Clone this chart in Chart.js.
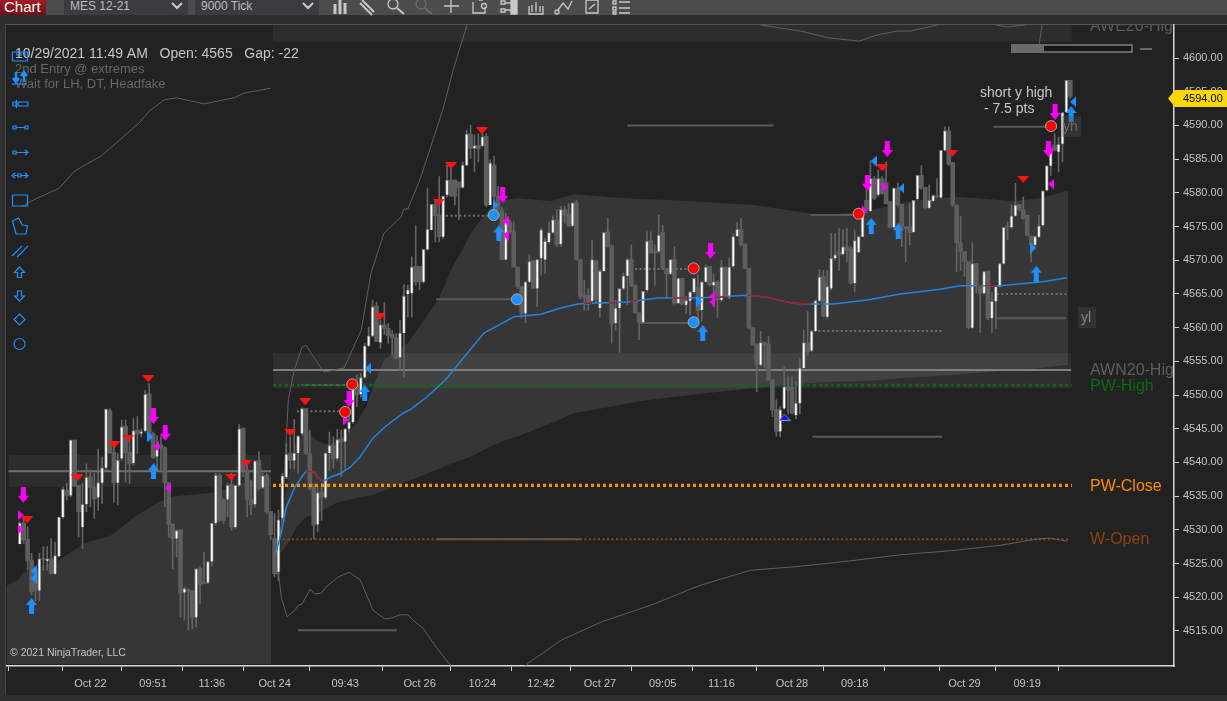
<!DOCTYPE html>
<html>
<head>
<meta charset="utf-8">
<title>MES 12-21</title>
<script src="https://cdn.jsdelivr.net/npm/chart.js@4/dist/chart.umd.min.js"></script>
<style>
html, body { margin: 0; padding: 0; width: 1227px; height: 701px; overflow: hidden; background: #303030; font-family: "Liberation Sans", Arial, sans-serif; }
.abs { position: absolute; }
#toolbar { left: 0; top: 0; width: 1227px; height: 15px; background: #4c4c4c; }
#strip { left: 0; top: 15px; width: 1227px; height: 9px; background: #2e2e2e; }
#panel { left: 5px; top: 24px; right: 0; height: 671px; background: #222; border-top: 1px solid #555; border-left: 1px solid #444; box-sizing: border-box; }
#tab { left: 0; top: 0; width: 46px; height: 15px; background: linear-gradient(#a51c24, #6d1015); color: #fff; font-size: 15px; line-height: 13px; text-indent: 4px; overflow: hidden; }
.combo { top: 0; height: 15px; background: #3b3b40; color: #bdbdbd; font-size: 12px; line-height: 12px; text-indent: 6px; overflow: hidden; }
#bar { left: 1011px; top: 44px; width: 122px; height: 9px; border: 2px solid #666; box-sizing: border-box; background: #151515; }
#barFill { left: 1011px; top: 44px; width: 33px; height: 9px; background: #6a6a6a; }
#barDash { left: 1140px; top: 48px; width: 12px; height: 2px; background: #666; }
canvas { position: absolute; left: 0; top: 0; }
svg { position: absolute; left: 0; top: 0; pointer-events: none; }
</style>
</head>
<body>
<div id="toolbar" class="abs"></div>
<div id="strip" class="abs"></div>
<div id="panel" class="abs"></div>
<div id="tab" class="abs">Chart</div>
<div class="abs combo" style="left:64px;width:124px">MES 12-21</div>
<div class="abs combo" style="left:195px;width:124px">9000 Tick</div>
<svg width="1227" height="24" fill="none" stroke="#c8c8c8" stroke-width="1.3">
  <path d="M172 3l5 5 5-5M303 3l5 5 5-5" stroke-width="2"/>
  <path d="M335 4v10M340 0v14M345 3v11" stroke-width="3"/>
  <path d="M362 0l12 12M360 3l12 12" stroke-width="2"/>
  <circle cx="393" cy="4" r="5"/><path d="M397 8l7 6" stroke-width="2"/>
  <circle cx="421" cy="4" r="5" stroke="#6a6a6a"/><path d="M425 8l7 6" stroke="#6a6a6a" stroke-width="2"/>
  <path d="M444 6h15M451 0v13"/>
  <path d="M473 2v11h12v-6M479 0h4"/><circle cx="484" cy="6" r="2.5"/>
  <path d="M501 1h4v3h-4zM501 9h4v3h-4zM505 3h6M505 10h6"/><path d="M511 0h6v14h-6z" fill="#c8c8c8"/>
  <path d="M529 6v8h14V6M532 12V5M536 12V2M540 12V6"/>
  <circle cx="557" cy="12" r="2"/><path d="M558 10l5-7 5 6 4-8"/>
  <path d="M586 0h12v13h-12zM589 9l6-5"/>
  <path d="M613 1h3v3h-3zM613 7h3v3h-3zM613 12h3v2h-3zM619 2h11M619 8h11M619 13h11"/>
</svg>
<div id="bar" class="abs"></div>
<div id="barFill" class="abs"></div>
<div id="barDash" class="abs"></div>
<canvas id="chart" width="1227" height="701"></canvas>
<svg width="60" height="360" fill="none" stroke="#1e90ff" stroke-width="1.2" style="z-index:3">
  <path d="M12.500 52h15v9h-15zM17 52v4M21 52v4M25 52v4"/>
  <path d="M12 84h15"/>
  <path d="M16 72v9M13 78l3 4 3-4M24 82v-9M21 76l3-4 3 4" stroke-width="2.5"/>
  <path d="M13 102h3v4h-3zM18 102h10v4H18zM16.500 100v8"/>
  <path d="M13 126h3v3h-3zM16 127.500h9M25 126h3v3h-3z"/>
  <path d="M13 151h3v3h-3zM16 152.500h11M25 150l3 2.500-3 2.500"/>
  <path d="M14 175.500h4M21 175.500h6M15 173l-3 2.500 3 2.500M25 173l3 2.500-3 2.500M18 174h3v3h-3z"/>
  <path d="M12.500 195h15v11h-15z"/>
  <path d="M12.500 221l6-3 4 7 5 1-1.500 8h-10z"/>
  <path d="M12 256l10-10M17 257l11-11"/>
  <path d="M19.500 267l5 5.500h-3v5h-4v-5h-3z"/>
  <path d="M17.500 291h4v5h3l-5 5-5-5h3z"/>
  <path d="M19.500 314l5.500 5.500-5.500 5.500-5.500-5.500z"/>
  <circle cx="19.500" cy="344" r="5.500"/>
</svg>
<script>
// bars
const opens = [
  4527.9,4531,4528.6,4525.5,4524,4521,4525.7,4525.4,4525.7,4523.5,
  4526.1,4531.9,4535.9,4535.1,4543.3,4536.6,4530.4,4533.8,4537.9,4536.4,
  4534.8,4537,4539.2,4547.7,4541.5,4537,4540.6,4545.4,4541.5,4539.9,
  4544.8,4544.3,4544.7,4550.2,4544.3,4540.9,4542.6,4542.2,4537,4530.8,
  4528.7,4530,4520.7,4521,4521,4517,4524.3,4522.2,4522.2,4525.3,
  4531,4538.1,4534.5,4534.5,4536.7,4530.4,4536.6,4545.1,4538.9,4534.5,
  4533.8,4540.3,4536.3,4538.1,4532.7,4528.7,4523.8,4531.8,4537.8,4541.3,
  4540.3,4541.4,4544.3,4548,4541.3,4536.8,4530.8,4535.6,4534.8,4541.4,
  4542.5,4540.6,4543.5,4543.1,4545,4546,4551.5,4550.1,4552.6,4557.3,
  4558.8,4563.2,4557.8,4560.4,4559.9,4559,4558.5,4555.6,4559.2,4565,
  4565.1,4569.1,4569.1,4566.8,4571.6,4574.5,4578.3,4576.7,4573.5,4579.7,
  4581.9,4581.9,4581.6,4580.8,4584.1,4588.7,4586.6,4587,4587,4588.4,
  4578.2,4584.1,4579.5,4577.4,4570.1,4575.7,4574.2,4569,4566.1,4562.1,
  4566.8,4569.9,4565.8,4570.3,4570.1,4572.7,4574.1,4576,4572.4,4577.5,
  4576.9,4575.1,4578.5,4570.1,4564.8,4564.8,4564,4569.9,4562.9,4568.4,
  4574.2,4572.1,4560.7,4562.9,4565.8,4567.7,4570.1,4566.3,4562.2,4560.8,
  4565.6,4572.9,4571.4,4571.3,4574.1,4568.8,4568,4570.1,4563.6,4567.3,
  4563.4,4564,4565.3,4566,4562.6,4566.8,4569.1,4566.3,4566.8,4564.1,
  4569,4564.5,4569.1,4573.6,4574.6,4572.4,4568.8,4560,4557.6,4554.5,
  4557.8,4557.6,4552.3,4547.9,4544.6,4548,4551.2,4551.2,4547,4548.8,
  4554,4557.8,4556.6,4559.5,4564,4567.6,4561.6,4565.8,4570.3,4571.3,
  4570.9,4572,4571.7,4566.6,4571.2,4573.5,4578.9,4577.3,4582.1,4579.7,
  4582.1,4581.5,4578.7,4574.9,4580.7,4578.3,4575,4575,4574.2,4579.1,
  4582.6,4580.8,4577.8,4578.8,4579.6,4579.3,4586.3,4589.2,4584.5,4578.2,
  4572.6,4571.3,4569.8,4560,4569.5,4566.3,4565.1,4568.4,4561.4,4563.9,
  4566.1,4569.5,4575,4574.9,4576.6,4578.3,4577.5,4576.7,4573.6,4572.3,
  4573.5,4575.2,4580.4,4584,4587.1,4586.1,4587.3,4592,4596.7
];
const closes = [
  4531,4528.5,4525.4,4520.8,4521,4525.7,4525.6,4525.7,4523.5,4526.2,
  4531.9,4536,4535.1,4543.3,4536.5,4532.7,4533.8,4537.8,4536.3,4534.6,
  4537,4539.2,4547.9,4541.4,4537,4540.3,4545.3,4541.4,4539.8,4544.7,
  4544.2,4544.5,4550.1,4544.3,4540.7,4541.9,4542.1,4537,4530.8,4528.7,
  4529.9,4520.6,4521.3,4520.9,4517,4524.2,4521.9,4522,4525.3,4531,
  4538.1,4531.4,4531.4,4536.6,4530.4,4536.6,4545,4538.9,4534.5,4533.7,
  4540.2,4536.1,4538,4532.7,4529.3,4523.5,4531.5,4538,4541.2,4540.3,
  4541.4,4543.9,4548,4541.3,4536.1,4530.7,4535.5,4534.8,4541.4,4542.5,
  4540.6,4543.4,4543,4545,4546,4550.8,4550,4552.6,4557.3,4558.8,
  4563.1,4557.9,4560.4,4559.9,4558.8,4558.5,4555.4,4559.2,4564.7,4565.6,
  4569,4566.8,4566.8,4571.6,4574.6,4578.3,4576.6,4573.5,4579.5,4581.9,
  4579.5,4579.5,4580.8,4584.1,4588.7,4586.6,4587,4586.5,4588.3,4578.2,
  4584.4,4579.5,4577.5,4570.1,4575.7,4574.2,4569,4566.1,4562.1,4566.8,
  4569.8,4565.8,4570.1,4574.5,4572.8,4574.1,4576,4572.3,4577.5,4576.7,
  4575.1,4578.5,4570.1,4564.6,4564.5,4563.4,4570.1,4564.1,4568.4,4574.1,
  4572,4560.6,4562.9,4565.8,4567.7,4570.1,4566.2,4562.2,4560.7,4565.4,
  4572.8,4571.1,4571.1,4573.7,4568.8,4568,4570.1,4563.6,4567.3,4563.5,
  4564,4565.3,4567.3,4562.5,4566.8,4569,4566.3,4566.8,4564.1,4569,
  4564.6,4569,4573.5,4574.6,4572.3,4568.8,4560,4557.4,4554.5,4557.8,
  4557.4,4552.2,4547.8,4544.6,4547.8,4551.2,4550.7,4547.3,4548.8,4554,
  4557.8,4556.4,4559.5,4564,4567.5,4561.7,4566.1,4570.3,4570.8,4570.8,
  4572,4571.5,4566.6,4572.9,4573.5,4577.5,4577.5,4582.1,4579.2,4582.1,
  4579.9,4578.4,4574.9,4580.7,4578.2,4575,4574.7,4574.1,4578.9,4582.6,
  4580.7,4577.8,4578.9,4579.6,4579.4,4586.3,4589.2,4584.3,4578.2,4572.6,
  4571.3,4569.8,4560,4569.5,4566.3,4565.1,4568.3,4561.4,4563.9,4566.1,
  4569.5,4574.9,4574.9,4576.6,4578.2,4577.5,4576.2,4573.7,4572.3,4573.5,
  4575.1,4580.3,4584,4586.3,4586.3,4587.2,4591.9,4596.7,4594.3
];
const highs = [
  4531.2,4531.9,4530.4,4526.5,4524.5,4526.5,4527.5,4527.5,4528.7,4528.2,
  4531.9,4536.4,4536.9,4543.3,4543.3,4536.6,4536.9,4539.8,4538.9,4538.4,
  4542,4540.8,4547.9,4548,4542.3,4541.3,4546.3,4546.3,4544,4546.5,
  4546.8,4545,4550.7,4551.7,4544.5,4544,4543.8,4542.3,4537,4530.9,
  4530,4530,4521.5,4521.3,4521,4524.2,4524.5,4526.7,4525.3,4531,
  4538.4,4538.4,4534.6,4536.9,4538.4,4536.6,4545.6,4545.1,4540.3,4537.4,
  4540.3,4541.6,4538.4,4538.4,4532.7,4532.4,4532.9,4538.4,4542.8,4543.8,
  4546.4,4544,4548.1,4548,4544.8,4536.8,4536.4,4536.9,4541.4,4544.5,
  4543.8,4544.9,4544.8,4545,4548,4551.5,4553,4553.2,4557.7,4560.1,
  4564.1,4563.8,4561.1,4563.7,4560.6,4559.6,4559.1,4561.1,4566.4,4566.3,
  4570.5,4575.1,4569.1,4571.6,4580.7,4578.3,4579,4582.4,4579.5,4584.1,
  4584.4,4581.9,4581.6,4584.6,4589.3,4590,4588.6,4588.7,4589.3,4588.8,
  4584.9,4585.4,4581,4577.9,4577,4576,4575.7,4569,4566.1,4566.8,
  4570.8,4570,4570.1,4574.7,4573.3,4575.7,4576.6,4577.5,4578,4578,
  4578.4,4578.5,4578.9,4570.1,4567,4565.8,4573,4570,4568.6,4574.1,
  4576.2,4572.3,4564.1,4565.8,4568.1,4570.3,4572.3,4566.3,4562.2,4565.4,
  4574.2,4574.2,4572.3,4576.7,4575.2,4568.8,4570.1,4572,4567.3,4567.3,
  4564.6,4565.3,4567.3,4567.8,4566.8,4569.3,4569.1,4568,4567,4570,
  4569,4570.3,4573.9,4575.6,4576.2,4572.4,4568.8,4560,4557.6,4559.4,
  4557.9,4558.7,4552.3,4549.3,4548.3,4554.2,4552.7,4552.7,4552,4555.4,
  4559.6,4562.4,4559.6,4564.1,4568.6,4568.5,4568.5,4574,4574,4574.7,
  4574.5,4574.7,4572,4574.5,4573.6,4577.5,4580.4,4584.8,4582.4,4583.4,
  4582.4,4584.6,4578.7,4580.7,4581.4,4578.3,4575,4578.4,4578.9,4582.6,
  4584,4580.8,4581.2,4579.7,4582.1,4586.3,4589.8,4589.8,4584.5,4578.2,
  4576.5,4571.3,4569.8,4572.6,4569.5,4566.3,4568.3,4568.4,4565.2,4566.2,
  4569.5,4574.9,4575.7,4578.2,4581.4,4578.3,4579.4,4576.7,4573.6,4573.6,
  4576.7,4580.3,4584,4586.3,4588.8,4588.3,4591.9,4596.7,4596.7
];
const lows = [
  4527.9,4528,4524,4520.4,4519.5,4519.5,4524,4524,4523.4,4523.4,
  4526,4531.7,4534.4,4534.9,4536.4,4528.9,4527.2,4532.7,4533.4,4531.7,
  4532.9,4533.9,4538.9,4541.3,4534.1,4533.7,4540.3,4537.1,4536.9,4539.6,
  4541.3,4543.8,4544.5,4543.6,4540.6,4538.9,4538.9,4533.4,4528.9,4524.2,
  4526,4517.1,4516.6,4515.1,4515.3,4515.6,4519,4522,4522,4524.7,
  4530.7,4531.2,4530.9,4531.9,4529.9,4530.2,4536.4,4537.9,4531.9,4532.2,
  4533.4,4535.9,4536.1,4532.4,4528.5,4523,4522.5,4531.4,4537.6,4539.1,
  4539.1,4538.4,4544,4541.2,4535.9,4528.7,4529.7,4531.4,4534.6,4538.8,
  4539.1,4540.3,4537.9,4539.1,4544.5,4545.8,4548.3,4549.7,4552.5,4557.2,
  4558.6,4557.9,4556.9,4559,4557.7,4555.9,4555.4,4553.7,4552.6,4561.6,
  4561.6,4566.3,4565.6,4566.6,4571.5,4574.5,4572.7,4572.7,4573.2,4579.4,
  4579.5,4578.2,4576,4580.7,4584,4585.1,4583.1,4584.6,4586.9,4577.9,
  4578.2,4577.4,4577.4,4570.1,4570,4574,4569,4565.8,4561.4,4560.7,
  4566.7,4565.8,4563.1,4567.8,4568,4572.5,4574,4572,4572,4575.5,
  4575,4575,4570,4564.3,4562.6,4562.6,4563.6,4563.6,4561.6,4568.3,
  4571.9,4557.7,4559.6,4556.3,4565.6,4563.4,4566.1,4562.1,4558.2,4560.7,
  4565.3,4571,4566.3,4571.1,4568.7,4564.3,4567.9,4563.5,4563.6,4563.4,
  4562.1,4561.9,4565.1,4560.9,4561,4566.7,4566.1,4563.1,4561.5,4563.9,
  4564.5,4564.3,4569,4573.5,4572.1,4568.7,4559.9,4557.4,4550.5,4554.4,
  4554,4552.2,4546.8,4543.9,4543.8,4547.9,4547.2,4547.2,4546.5,4547.2,
  4554,4555.9,4556.4,4559.4,4563.9,4561.6,4561.4,4565.6,4570,4568.5,
  4570.8,4569.8,4566.5,4565.3,4571.1,4573.5,4577,4577.2,4579,4579.5,
  4579.8,4578.3,4574.8,4574.7,4578,4572,4569.8,4572.3,4574.1,4578.9,
  4580.5,4577.7,4577.7,4578.7,4579.3,4579.2,4586.2,4584.1,4578,4568.3,
  4568.5,4567.6,4559.9,4559.9,4565.1,4559.3,4565,4561.2,4559.3,4559.9,
  4566,4569.4,4573,4574.7,4576.5,4577.3,4576.1,4573.6,4569.8,4572,
  4573.4,4575.1,4580.3,4582.6,4586.2,4583.1,4584.6,4591.9,4594
];

// axis
const priceTicks = [4515,4520,4525,4530,4535,4540,4545,4550,4555,4560,4565,4570,4575,4580,4585,4590,4595,4600];
const timeTickBars = [4,18,34,49,65,83,102,118,133,148,164,179,197,213,228,241,257];
const timeTickLabels = ['','Oct 22','09:51','11:36','Oct 24','09:43','Oct 26','10:24','12:42','Oct 27','09:05','11:16','Oct 28','09:18','','Oct 29','09:19'];

// shaded bands
const leftBandX = [-3.4,-0.3,0.9,5.5,9.9,16.5,23.4,29.2,35.3,39.4,49.6,56.5,64.1];
const leftBandTop = [4521.7,4522.6,4523.7,4524.5,4525.5,4528,4529.2,4531.9,4534.1,4535,4535.5,4536.9,4537.8];
const bandX = [66.4,67.2,68.5,70.5,73,75.6,77.9,80.7,83.2,85.8,88.3,90.1,92.9,99,106.7,110,115.1,120.2,123.5,127,135.5,141.3,150,158.4,166.8,175.5,187.2,204.3,216.2,224.6,233,239.9,253.4,260.3,267.4];
const bandUpper = [4526.6,4532.5,4537.8,4542.9,4544.8,4543.3,4542.7,4543,4544.1,4545.8,4548.2,4551.2,4555.2,4557.7,4564.1,4568.5,4574,4577.9,4578.9,4579.2,4578.8,4579.8,4579.4,4579.1,4578.9,4578.6,4578.2,4576.7,4577.2,4578.5,4579.2,4579.4,4578.8,4579.2,4580.3];
const bandLower = [4526.6,4527,4528,4530.3,4531.9,4532.3,4533.1,4534,4534.4,4534.7,4535,4535.2,4535.8,4537.2,4539,4539.8,4540.9,4542.4,4543.2,4543.9,4545.8,4547.3,4548.2,4549.1,4549.7,4550.3,4551,4551.9,4552.1,4552.5,4552.8,4553.1,4553.7,4554,4554.5];

// indicator curves as [bar, price]
const envLeft = [[0.4,4577.9],[3,4578.8],[10.1,4580.7],[13.9,4583.2],[20.8,4585.5],[24.6,4587.4],[30.5,4590.4],[33,4592.1],[36.9,4593.8],[39.9,4594.1],[47.1,4593.2],[49.6,4593.5],[54.7,4594.1],[57.2,4594.8],[63.9,4595.5]];
const envUpper = [[65.7,4526.3],[66.7,4530.7],[67.4,4536.9],[68.5,4549.3],[70,4553.7],[72,4557.1],[73,4557.4],[74.3,4556.2],[77.6,4553.4],[82.7,4554],[87.1,4559.6],[89.6,4568.1],[92.9,4574],[97.2,4576.4],[98,4577.6],[99,4577.6],[102.3,4582.3],[107.9,4592.3],[110.7,4598.5],[114.1,4604.9],[127.8,4615],[158.4,4625],[188.9,4604.9],[199.2,4604],[206.3,4603],[214.2,4602.5],[218.5,4603.4],[223.9,4604],[227.2,4604],[234,4604.9],[241.2,4607],[249.1,4604.9],[251.9,4604.6],[256.5,4604.9]];
const envStub = [[260,4601.8],[260.8,4604.9]];
const envLower = [[65.1,4525.5],[66.2,4522.6],[66.7,4520],[68.2,4517.1],[70.2,4518.1],[71,4518.8],[72,4519],[74.1,4521.2],[75.1,4520.5],[76.9,4520.6],[78.1,4521.5],[81.2,4523],[84,4523.7],[86.8,4522.6],[90.1,4518.1],[91.4,4517.5],[93.2,4516.8],[94.7,4516.9],[97,4517.4],[99,4517.4],[101.1,4516.2],[102.9,4515.4],[106.2,4512.6],[109.5,4510.2],[120.2,4503],[129.6,4510.2],[133.4,4511.7],[138,4513.6],[148.2,4516.3],[160.9,4518.8],[173.7,4521.8],[186.4,4524],[199.2,4524.6],[211.9,4525.4],[224.6,4526.3],[237.4,4526.9],[250.1,4527.7],[259,4528.6],[262.9,4528.8],[267.2,4528.3]];
const vwapLine = [[65.3,4526.6],[66.7,4529.5],[67.9,4533.2],[70.2,4536.4],[73,4538.7],[75.1,4538.6],[76.1,4537.7],[77.4,4537.2],[79.2,4537.8],[81.9,4538.4],[84.3,4539.3],[86.8,4540.8],[90.1,4543.6],[93.2,4545.3],[97.8,4547.3],[99.8,4547.9],[101.1,4548.5],[103.6,4549.6],[108.5,4552.2],[118.4,4559.2],[126.1,4561.6],[132.9,4562],[138,4562.9],[142.3,4563.5],[145.7,4563.6],[155.1,4563.8],[162.7,4564.4],[172.9,4564.4],[185.6,4564.8],[190.7,4564.5],[197.3,4563.6],[200.9,4563.5],[207.6,4563.5],[216.2,4564.1],[224.6,4565],[234.8,4565.7],[239.9,4566.2],[250.1,4566.2],[261,4566.8],[267.2,4567.4]];
const vwapRed = [
  [[73,4538.7],[75.1,4538.6],[76.1,4537.7],[77.4,4537.2]],
  [[144,4563.6],[146,4563.6]],
  [[150.3,4563.7],[152.5,4563.7]],
  [[155.8,4563.8],[157.6,4564.1]],
  [[166.6,4564.4],[170.7,4564.4]],
  [[177,4564.5],[180.5,4564.6]],
  [[185.6,4564.8],[190.7,4564.5],[197.3,4563.6],[201.7,4563.5]],
  [[204,4563.5],[205,4563.5]],
  [[244.2,4566.2],[245.4,4566.2]],
  [[246.3,4566.2],[249.3,4566.2]]
];

// levels as [first bar, last bar, price]
const pwHigh = [64.6,268.4,4551.5];
const pwClose = [64.6,268.4,4536.6];
const wOpen = [66,267.4,4528.6];
const awnLine = [64.6,268.2,4553.7];
const awnBand = [64.6,268.2,4551,4556.2];
const aweBand = [64.6,268.4,4602.4,4604.9];
const leftLine = [-2.9,64.1,4538.7];
const leftBand = [-2.9,64.1,4536.4,4541.1];
const solidLevels = [[155,192.3,4590],[106.2,126.5,4564.2],[158.4,171.9,4560.7],[202.2,235.3,4543.8],[71,96.2,4515.1],[248.4,263.1,4589.8],[249.3,266.9,4561.4],[201.7,214.7,4576.7],[71.8,84.8,4551.5],[106.2,143,4528.6]];
const dottedLevels = [[108.7,120.9,4576.6],[155.8,171.9,4568.7],[203.7,235.3,4559.5],[249.3,267.1,4565],[70.7,83,4547.6]];

// signals as [bar, price]
const redTriangles = [[1.9,4531.5],[14.7,4537.7],[24.1,4542.6],[27.7,4543.6],[32.8,4552.4],[53.9,4537.8],[57.8,4539.9],[69,4544.4],[72.8,4549],[91.9,4561.6],[106.9,4578.6],[110,4584],[117.9,4589.2],[220,4583.7],[237.9,4585.9],[256,4582]];
const magentaArrows = [[0.9,4535.2],[34.1,4546.9],[37.1,4544.4],[84,4549.4],[123.2,4579.7],[176.2,4571.4],[216.2,4581.5],[221.3,4586.5],[262.4,4586.5],[264.1,4592]];
const blueArrows = [[3,4518.7],[34.1,4538.7],[88,4550.3],[122.2,4574],[174.2,4559.2],[217.2,4575.1],[224.1,4574.3],[259.3,4568],[268.2,4591.7]];
const magentaRight = [[0.2,4532.2],[0.2,4530.1],[215.5,4577.4],[220.6,4580.9],[263.1,4586.4],[83.2,4546.3]];
const magentaLeft = [[34.8,4542.4],[37.9,4536.2],[124,4575.8],[124,4573.7],[176.7,4564.7],[176.7,4563.8],[263.1,4581.3]];
const blueLeft = [[3.5,4523.9],[3.5,4522.8],[88.8,4554],[217.8,4584.7],[224.9,4580.7],[268.7,4593.5]];
const blueRight = [[33.3,4543.8],[121.4,4578.2],[173.4,4563.9],[258.5,4571.8]];
const darkBlueUp = [[195.1,4546.7]];
const redDots = [[84.8,4551.6],[83,4547.5],[171.9,4568.8],[214,4576.9],[263.1,4589.9]];
const blueDots = [[120.9,4576.7],[126.8,4564.2],[171.9,4560.8]];

const lastPrice = 4594;

const pts = list => list.map(([x, y]) => ({x, y}));

function curve(list, color, width, extra) {
    return Object.assign({type: 'line', data: pts(list), borderColor: color, borderWidth: width, pointRadius: 0, tension: 0, fill: false, order: 60}, extra);
}

function level(item, color, width, dash, order) {
    return curve([[item[0], item[2]], [item[1], item[2]]], color, width, {borderDash: dash || [], order: order || 70});
}

function bandPair(top, bottom, color, order) {
    return [
        {type: 'line', data: top, borderWidth: 0, pointRadius: 0, tension: 0, fill: '+1', backgroundColor: color, order},
        {type: 'line', data: bottom, borderWidth: 0, pointRadius: 0, tension: 0, fill: false, order: order + 1}
    ];
}

function flatBand(item, color, order) {
    return bandPair([{x: item[0], y: item[3]}, {x: item[1], y: item[3]}], [{x: item[0], y: item[2]}, {x: item[1], y: item[2]}], color, order);
}

// little pictures for the signal marks
function sprite(w, h, draw) {
    const c = document.createElement('canvas');
    c.width = w; c.height = h;
    draw(c.getContext('2d'), w, h);
    return c;
}
function poly(ctx, points, fill, stroke) {
    ctx.beginPath();
    points.forEach(([x, y], i) => i ? ctx.lineTo(x, y) : ctx.moveTo(x, y));
    ctx.closePath();
    ctx.fillStyle = fill;
    ctx.fill();
    if (stroke) { ctx.strokeStyle = stroke; ctx.stroke(); }
}
const arrowDown = color => sprite(11, 16, (ctx) => poly(ctx, [[3,0],[8,0],[8,9],[11,9],[5.5,16],[0,9],[3,9]], color));
const arrowUp = color => sprite(11, 16, (ctx) => poly(ctx, [[5.5,0],[11,7],[8,7],[8,16],[3,16],[3,7],[0,7]], color));
const triDown = sprite(12, 7, (ctx) => poly(ctx, [[0,0],[12,0],[6,7]], '#ff1414'));
const triUp = sprite(12, 7, (ctx) => poly(ctx, [[6,0.5],[11.5,6.5],[0.5,6.5]], '#0a0aff', '#8a8ac8'));
const triLeft = color => sprite(6, 11, (ctx) => poly(ctx, [[6,0],[6,11],[0,5.5]], color));
const triRight = color => sprite(6, 11, (ctx) => poly(ctx, [[0,0],[6,5.5],[0,11]], color));

function marks(list, style) {
    return {type: 'line', data: pts(list), showLine: false, pointStyle: style, pointRadius: 5, borderWidth: 0, order: 2};
}
function dots(list, color) {
    return {type: 'line', data: pts(list), showLine: false, pointStyle: 'circle', pointRadius: 5.5, backgroundColor: color, pointBorderColor: '#a8a8a8', pointBorderWidth: 1, order: 1};
}

const barIdx = opens.map((_, i) => i);
const wickData = barIdx.map(i => ({x: i, y: [lows[i], highs[i]]}));
const upBars = barIdx.filter(i => closes[i] >= opens[i]).map(i => ({x: i, y: [opens[i], closes[i]]}));
const downBars = barIdx.filter(i => closes[i] < opens[i]).map(i => ({x: i, y: [closes[i], opens[i]]}));

const xOf = (a, b) => a.map((x, i) => ({x, y: b[i]}));

const datasets = [
    // left session shading, filled down to the floor of the chart
    {type: 'line', data: xOf(leftBandX, leftBandTop), borderWidth: 0, pointRadius: 0, tension: 0, fill: {value: 4510.1}, backgroundColor: 'rgba(255,255,255,0.095)', order: 100},
    ...bandPair(xOf(bandX, bandUpper), xOf(bandX, bandLower), 'rgba(255,255,255,0.095)', 96),
    ...flatBand(leftBand, 'rgba(255,255,255,0.05)', 92),
    ...flatBand(awnBand, 'rgba(255,255,255,0.06)', 90),
    ...flatBand(aweBand, 'rgba(255,255,255,0.05)', 88),

    curve(envLeft, '#606060', 1),
    curve(envUpper, '#606060', 1),
    curve(envStub, '#606060', 1),
    curve(envLower, '#606060', 1),

    level(awnLine, '#808080', 2),
    level(leftLine, '#707070', 2),
    ...solidLevels.map(l => level(l, '#5a5a5a', 2)),
    ...dottedLevels.map(l => level(l, '#707070', 2, [2, 2.500])),
    level(pwHigh, '#0b6b12', 2.500, [3, 3], 65),
    level(wOpen, '#8a4513', 2, [2, 2.500], 65),

    {type: 'bar', data: wickData, backgroundColor: '#646464', barThickness: 1, grouped: false, order: 30},
    {type: 'bar', data: downBars, backgroundColor: '#5e5e5e', barThickness: 4, minBarLength: 1, grouped: false, order: 20},
    {type: 'bar', data: upBars, backgroundColor: '#ffffff', borderColor: '#7a7a7a', borderWidth: 1, barThickness: 3, minBarLength: 2, grouped: false, order: 19},

    level(pwClose, '#ff8c00', 3.200, [3, 3], 15),
    curve(vwapLine, '#2284de', 1.500, {order: 10}),
    ...vwapRed.map(s => curve(s, '#a81c22', 1.500, {order: 9})),

    marks(redTriangles, triDown),
    marks(darkBlueUp, triUp),
    marks(magentaArrows, arrowDown('#ff00ff')),
    marks(blueArrows, arrowUp('#1e90ff')),
    marks(magentaRight, triRight('#ff00ff')),
    marks(magentaLeft, triLeft('#ff00ff')),
    marks(blueLeft, triLeft('#1e90ff')),
    marks(blueRight, triRight('#1e90ff')),
    dots(redDots, '#ff0000'),
    dots(blueDots, '#1e90ff')
];

const chartNotes = [
    {t: '10/29/2021 11:49 AM   Open: 4565   Gap: -22', x: 15, y: 54, font: '14px', c: '#c6c6c6'},
    {t: '2nd Entry @ extremes', x: 15, y: 69, font: '13px', c: '#676767'},
    {t: 'Wait for LH, DT, Headfake', x: 15, y: 84, font: '13px', c: '#676767'},
    {t: '\u00a9 2021 NinjaTrader, LLC', x: 10, y: 653, font: '10.500px', c: '#c4c4c4'},
    {t: 'short y high', x: 980, y: 93, font: '14px', c: '#c8c8c8'},
    {t: ' - 7.5 pts', x: 980, y: 109, font: '14px', c: '#c8c8c8'},
    {t: 'AWE20-High', x: 1090, y: 27, font: '16px', c: '#5a5a5a'},
    {t: 'AWN20-High', x: 1090, y: 371, font: '16px', c: '#5f5f5f'},
    {t: 'PW-High', x: 1090, y: 387, font: '16px', c: '#0b6b12'},
    {t: 'PW-Close', x: 1090, y: 487, font: '16px', c: '#ff8c00'},
    {t: 'W-Open', x: 1090, y: 540, font: '16px', c: '#8a4513'}
];

const notesPlugin = {
    id: 'notes',
    afterDraw(chart) {
        const ctx = chart.ctx;
        const area = chart.chartArea;
        ctx.save();
        // yh and yl tags
        ctx.fillStyle = 'rgba(80,80,80,0.35)';
        ctx.fillRect(1062, 116, 19, 21);
        ctx.fillRect(1078, 307, 18, 21);
        ctx.font = '14px "Liberation Sans"';
        ctx.textBaseline = 'middle';
        ctx.fillStyle = '#6a6a6a';
        ctx.fillText('yh', 1063, 127);
        ctx.fillStyle = '#8a8a8a';
        ctx.fillText('yl', 1081, 318);

        ctx.beginPath();
        ctx.rect(area.left, area.top, area.right - area.left - 1, area.bottom - area.top);
        ctx.clip();
        chartNotes.forEach(n => {
            ctx.font = n.font + ' "Liberation Sans"';
            ctx.fillStyle = n.c;
            ctx.fillText(n.t, n.x, n.y);
        });
        ctx.restore();

        // last price flag
        const y = chart.scales.y.getPixelForValue(lastPrice);
        ctx.save();
        ctx.fillStyle = '#ffd700';
        ctx.beginPath();
        ctx.moveTo(1168, y);
        ctx.lineTo(1175, y - 8.500);
        ctx.lineTo(1227, y - 8.500);
        ctx.lineTo(1227, y + 8.500);
        ctx.lineTo(1175, y + 8.500);
        ctx.closePath();
        ctx.fill();
        ctx.fillStyle = '#000';
        ctx.font = '11px "Liberation Sans"';
        ctx.textBaseline = 'middle';
        ctx.fillText(lastPrice.toFixed(2), 1183, y + 0.500);
        ctx.restore();
    }
};

new Chart(document.getElementById('chart'), {
    type: 'bar',
    data: {datasets},
    options: {
        responsive: false,
        animation: false,
        devicePixelRatio: 1,
        layout: {padding: {left: 5, top: 25, right: 0, bottom: 0}},
        plugins: {legend: {display: false}, tooltip: {enabled: false}},
        scales: {
            x: {
                type: 'linear', min: -3.39, max: 294.45, offset: false,
                afterBuildTicks: s => { s.ticks = timeTickBars.map(value => ({value})); },
                afterFit: s => { s.height = 35; },
                grid: {drawOnChartArea: false, drawTicks: true, tickLength: 5, tickColor: '#cfcfcf', tickWidth: 1},
                border: {color: '#d8d8d8', width: 1.500},
                ticks: {
                    autoSkip: false, maxRotation: 0, padding: 6, color: '#c4c4c4',
                    font: {family: '"Liberation Sans"', size: 11},
                    callback: v => timeTickLabels[timeTickBars.indexOf(v)] || ''
                }
            },
            y: {
                position: 'right', min: 4509.8, max: 4604.9,
                afterBuildTicks: s => { s.ticks = priceTicks.map(value => ({value})); },
                afterFit: s => { s.width = 53; },
                grid: {drawOnChartArea: false, drawTicks: true, tickLength: 5, tickColor: '#cfcfcf', tickWidth: 1},
                border: {color: '#d8d8d8', width: 1.500},
                ticks: {
                    padding: 4, color: '#c4c4c4',
                    font: {family: '"Liberation Sans"', size: 11},
                    callback: v => v.toFixed(2)
                }
            }
        }
    },
    plugins: [notesPlugin]
});
</script>
</body>
</html>
